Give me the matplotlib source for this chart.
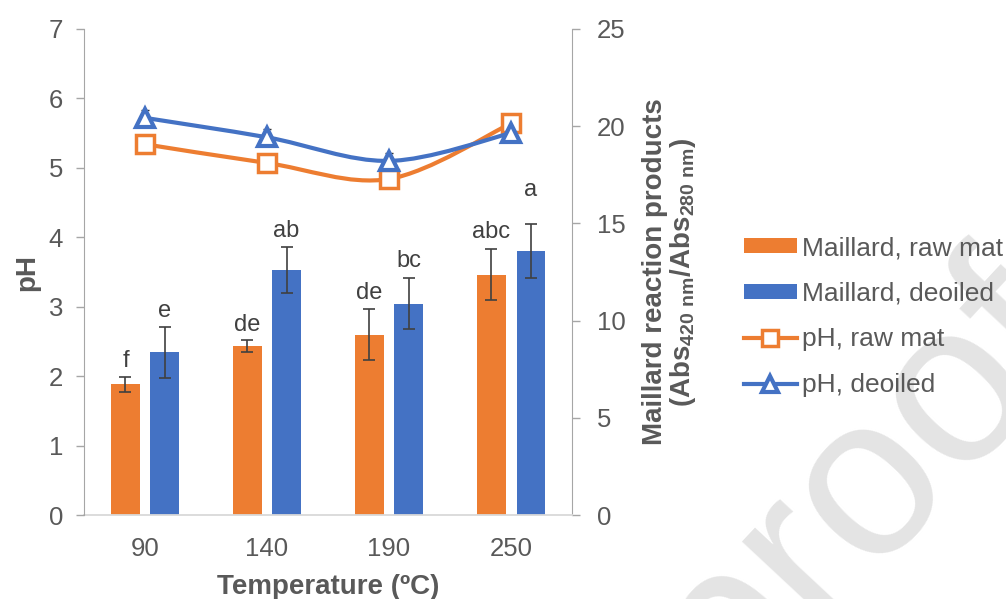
import numpy as np
import matplotlib
matplotlib.use('Agg')
import matplotlib.pyplot as plt
from matplotlib.path import Path
from matplotlib.patches import PathPatch, Patch
from matplotlib.lines import Line2D

plt.rcParams['font.family'] = ['Liberation Sans', 'DejaVu Sans']
plt.rcParams['mathtext.fontset'] = 'custom'
plt.rcParams['mathtext.rm'] = 'Liberation Sans'
plt.rcParams['mathtext.bf'] = 'Liberation Sans:bold'

# data
temps = ['90', '140', '190', '250']
maillard_raw = [6.72, 8.69, 9.27, 12.36]
maillard_raw_err = [0.40, 0.30, 1.32, 1.30]
maillard_deoil = [8.37, 12.60, 10.87, 13.58]
maillard_deoil_err = [1.30, 1.20, 1.30, 1.40]
letters_raw = ['f', 'de', 'de', 'abc']
letters_deoil = ['e', 'ab', 'bc', 'a']
ph_raw = [5.34, 5.07, 4.84, 5.64]
ph_deoil = [5.72, 5.44, 5.10, 5.50]
ph_deoil_err = [0.12, 0.12, 0.12, 0.05]

orange = '#ED7D31'
blue = '#4472C4'
txt = '#595959'
axcol = '#A6A6A6'


def smooth_path(xs, ys):
    # excel-like smoothed line: catmull-rom as cubic bezier
    pts = np.column_stack([xs, ys]).astype(float)
    n = len(pts)
    verts = [pts[0]]
    codes = [Path.MOVETO]
    for i in range(n - 1):
        p0 = pts[max(i - 1, 0)]
        p1 = pts[i]
        p2 = pts[i + 1]
        p3 = pts[min(i + 2, n - 1)]
        verts += [p1 + (p2 - p0) / 6, p2 - (p3 - p1) / 6, p2]
        codes += [Path.CURVE4] * 3
    return Path(verts, codes)


fig = plt.figure(figsize=(10.06, 5.99), dpi=100)
ax = fig.add_axes([0.0835, 0.1402, 0.4851, 0.8114])
ax2 = ax.twinx()   # pH on top, bars underneath
x = np.arange(len(temps))
off = 0.16
w = 0.23

ax.bar(x - off, maillard_raw, w, color=orange, zorder=2)
ax.bar(x + off, maillard_deoil, w, color=blue, zorder=2)
ax.errorbar(x - off, maillard_raw, yerr=maillard_raw_err, fmt='none', ecolor='#404040',
            elinewidth=1.2, capsize=4.3, capthick=1.2, zorder=3)
ax.errorbar(x + off, maillard_deoil, yerr=maillard_deoil_err, fmt='none', ecolor='#404040',
            elinewidth=1.2, capsize=4.3, capthick=1.2, zorder=3)

pad_raw = [7, 7, 7, 8]
pad_deoil = [7, 7, 8, 20]
for i in range(len(temps)):
    ax.annotate(letters_raw[i], xy=(x[i] - off, maillard_raw[i] + maillard_raw_err[i]),
                xytext=(0, pad_raw[i]), textcoords='offset points', ha='center',
                va='baseline', fontsize=17, color='#404040')
    ax.annotate(letters_deoil[i], xy=(x[i] + off, maillard_deoil[i] + maillard_deoil_err[i]),
                xytext=(0, pad_deoil[i]), textcoords='offset points', ha='center',
                va='baseline', fontsize=17, color='#404040')

ax.set_xlim(-0.5, 3.5)
ax.set_ylim(0, 25)
ax.set_yticks(range(0, 26, 5))
ax.set_xticks(x)
ax.set_xticklabels(temps)
ax.yaxis.tick_right()
ax.yaxis.set_label_position('right')
ax.tick_params(axis='x', length=0, pad=16, labelsize=18.5, labelcolor=txt)
ax.tick_params(axis='y', direction='out', length=6, width=1, color=axcol, pad=12,
               labelsize=18.5, labelcolor=txt)
for s in ['top', 'left']:
    ax.spines[s].set_visible(False)
ax.spines['right'].set_color(axcol)
ax.spines['bottom'].set_color('#D9D9D9')
ax.spines['bottom'].set_linewidth(1.3)
ax.set_xlabel('Temperature (ºC)', fontsize=20, fontweight='bold', color=txt, labelpad=9)
ax.set_ylabel('Maillard reaction products\n(Abs$_{\\mathbf{420\\ nm}}$/Abs$_{\\mathbf{280\\ nm}}$)',
              fontsize=20, fontweight='bold', color=txt, labelpad=12, linespacing=1.0)

ax2.yaxis.tick_left()
ax2.yaxis.set_label_position('left')
ax2.set_ylim(0, 7)
ax2.set_yticks(range(0, 8))
ax2.tick_params(axis='y', direction='out', length=6, width=1, color=axcol, pad=9,
                labelsize=18.5, labelcolor=txt)
for s in ['top', 'right', 'bottom']:
    ax2.spines[s].set_visible(False)
ax2.spines['left'].set_color(axcol)
ax2.set_ylabel('pH', fontsize=20, fontweight='bold', color=txt, labelpad=6)

ax2.add_patch(PathPatch(smooth_path(x, ph_raw), facecolor='none', edgecolor=orange,
                        lw=3, capstyle='round', zorder=3))
ax2.plot(x, ph_raw, ls='none', marker='s', ms=13, mfc='white', mec=orange, mew=2.5, zorder=4)
ax2.errorbar(x, ph_deoil, yerr=ph_deoil_err, fmt='none', ecolor='#303030',
             elinewidth=1.0, capsize=3, capthick=1.0, zorder=4.5)
ax2.add_patch(PathPatch(smooth_path(x, ph_deoil), facecolor='none', edgecolor=blue,
                        lw=3, capstyle='round', zorder=5))
ax2.plot(x, ph_deoil, ls='none', marker='^', ms=13, mfc='white', mec=blue, mew=3, zorder=6)

handles = [
    Patch(facecolor=orange, label='Maillard, raw mat'),
    Patch(facecolor=blue, label='Maillard, deoiled'),
    Line2D([], [], color=orange, lw=3, marker='s', ms=13, mfc='white', mec=orange, mew=2.5,
           label='pH, raw mat'),
    Line2D([], [], color=blue, lw=3, marker='^', ms=13, mfc='white', mec=blue, mew=3,
           label='pH, deoiled'),
]
fig.legend(handles=handles, loc='center left', bbox_to_anchor=(0.7395, 0.4716),
           frameon=False, fontsize=19, handlelength=2.0, handletextpad=0.2,
           handleheight=0.5, labelspacing=0.82, borderpad=0, borderaxespad=0,
           markerscale=0.85, labelcolor=txt)

# pre-proof watermark, mostly outside the figure
fig.text(1.083, 0.422, 'Journal Pre-proof', rotation=47, rotation_mode='anchor',
         ha='right', va='baseline', fontsize=165, color='#E4E4E4', zorder=0)

fig.savefig('out.png', dpi=100)
